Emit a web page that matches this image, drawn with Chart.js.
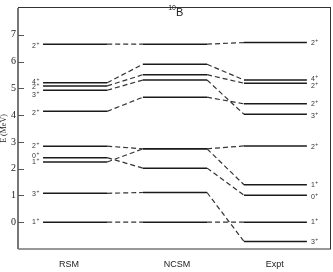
<!DOCTYPE html>
<html>
<head>
<meta charset="utf-8">
<script src="https://cdn.jsdelivr.net/npm/chart.js@4.4.1/dist/chart.umd.min.js"></script>
<style>
  body { margin: 0; background: #fff; }
</style>
</head>
<body>
<canvas id="chart" width="333" height="272"></canvas>
<script>
// level energies (MeV), same index = same state across the three columns
const models = ['RSM', 'NCSM', 'Expt']
const spins = ['2', '4', '2', '3', '2', '2', '0', '1', '3', '1']
const rsmLevels = [6.65, 5.21, 5.09, 4.93, 4.14, 2.84, 2.41, 2.25, 1.08, 0]
const ncsmLevels = [6.65, 5.90, 5.51, 5.31, 4.67, 2.74, 2.02, 2.74, 1.11, 0]
const exptLevels = [6.71, 5.31, 5.19, 4.03, 4.42, 2.85, 1.01, 1.40, -0.72, 0]
const yTicks = [0, 1, 2, 3, 4, 5, 6, 7]

// column extents on the x axis (0..10)
const cols = [[0.80, 2.85], [3.99, 6.04], [7.22, 9.23]]
const modelTickPos = [1.63, 5.08, 8.20]
const allLevels = [rsmLevels, ncsmLevels, exptLevels]

// small pixel nudges for the spin labels so they don't overlap
const rsmNudge = [2, -1, 1.5, 4.5, 2, 0, -1.5, 0.5, 1, 0]
const exptNudge = [1, -1, 2.7, 2, 0, 1, 2, 0, 1, 0]

const datasets = []
allLevels.forEach((levels, m) => {
  levels.forEach(e => {
    datasets.push({
      data: [{ x: cols[m][0], y: e }, { x: cols[m][1], y: e }],
      borderColor: '#1a1a1a',
      borderWidth: 1.5
    })
  })
})
for (let m = 0; m < 2; m++) {
  allLevels[m].forEach((e, i) => {
    datasets.push({
      data: [{ x: cols[m][1], y: e }, { x: cols[m + 1][0], y: allLevels[m + 1][i] }],
      borderColor: '#333',
      borderWidth: 1.2,
      borderDash: [5, 3]
    })
  })
}

const decorations = {
  id: 'decorations',
  afterDraw(chart) {
    const ctx = chart.ctx
    const { left, right, top, bottom } = chart.chartArea
    const x = chart.scales.x
    const y = chart.scales.y
    ctx.save()
    // frame
    ctx.strokeStyle = '#333'
    ctx.lineWidth = 1
    ctx.strokeRect(left + 0.5, top - 0.5, right - left - 1, bottom - top + 0.5)
    ctx.strokeStyle = '#777'
    ctx.lineWidth = 2
    ctx.beginPath()
    ctx.moveTo(left, top)
    ctx.lineTo(left, bottom)
    ctx.stroke()
    // inward ticks
    ctx.strokeStyle = '#555'
    ctx.lineWidth = 1
    yTicks.forEach(v => {
      const py = Math.round(y.getPixelForValue(v)) + 0.5
      ctx.beginPath()
      ctx.moveTo(left, py)
      ctx.lineTo(left + 6, py)
      ctx.stroke()
    })
    // title 10B
    ctx.fillStyle = '#222'
    ctx.textBaseline = 'alphabetic'
    ctx.font = '7px "Liberation Sans", Arial, sans-serif'
    ctx.textAlign = 'right'
    ctx.fillText('10', 176, 10)
    ctx.font = '11px "Liberation Sans", Arial, sans-serif'
    ctx.textAlign = 'left'
    ctx.fillText('B', 176, 16)
    // spin labels
    const label = (s, px, py) => {
      ctx.font = '7px "Liberation Sans", Arial, sans-serif'
      ctx.textAlign = 'left'
      ctx.textBaseline = 'middle'
      ctx.fillText(s, px, py)
      const w = ctx.measureText(s).width
      ctx.font = '5px "Liberation Sans", Arial, sans-serif'
      ctx.fillText('+', px + w + 0.5, py - 2.5)
    }
    ctx.fillStyle = '#333'
    rsmLevels.forEach((e, i) => label(spins[i], x.getPixelForValue(0.45), y.getPixelForValue(e) + rsmNudge[i]))
    exptLevels.forEach((e, i) => label(spins[i], x.getPixelForValue(9.36), y.getPixelForValue(e) + exptNudge[i]))
    ctx.restore()
  }
}

new Chart(document.getElementById('chart'), {
  type: 'line',
  data: { datasets },
  options: {
    responsive: false,
    animation: false,
    devicePixelRatio: 1,
    layout: { padding: { top: 1, right: 2, left: 0, bottom: 0 } },
    elements: { point: { radius: 0 }, line: { tension: 0 } },
    plugins: { legend: { display: false }, tooltip: { enabled: false } },
    scales: {
      x: {
        type: 'linear',
        min: 0,
        max: 10,
        grid: { display: false, drawTicks: false },
        border: { display: false },
        afterBuildTicks: s => { s.ticks = modelTickPos.map(v => ({ value: v })) },
        afterFit: s => { s.height = 23 },
        ticks: {
          autoSkip: false,
          maxRotation: 0,
          padding: 10,
          color: '#222',
          font: { family: '"Liberation Sans", Arial, sans-serif', size: 9 },
          callback: (v, i) => models[i]
        }
      },
      y: {
        min: -1,
        max: 8,
        grid: { display: false, drawTicks: false },
        border: { display: false },
        afterFit: s => { s.width = 18 },
        ticks: {
          stepSize: 1,
          padding: 2,
          color: '#222',
          font: { family: '"Liberation Serif", "Times New Roman", serif', size: 10 },
          callback: v => (yTicks.includes(v) ? v : '')
        },
        title: {
          display: true,
          text: 'E (MeV)',
          padding: { top: 0, bottom: 0 },
          color: '#222',
          font: { family: '"Liberation Serif", "Times New Roman", serif', size: 8, lineHeight: 1 }
        }
      }
    }
  },
  plugins: [decorations]
})
</script>
</body>
</html>
